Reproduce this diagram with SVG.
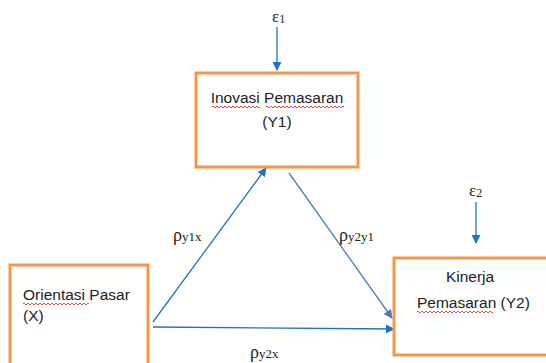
<svg xmlns="http://www.w3.org/2000/svg" width="546" height="363" viewBox="0 0 546 363">
<style>
.box{fill:#fff;stroke:#F79646;stroke-width:3}
.t{font-family:"Liberation Sans",Arial,sans-serif;font-size:15.5px;fill:#222}
.g{font-family:"Liberation Serif","Times New Roman",serif;fill:#222}
.c{stroke:#1F72C4;stroke-width:1.3;fill:none}
.c2{stroke:#4A7EBB;stroke-width:1.3;fill:none}
.sq{stroke:#E02020;stroke-width:0.8;fill:none}
</style>
<defs>
<marker id="ah" viewBox="0 0 10 10" refX="9" refY="5" markerWidth="9" markerHeight="9" markerUnits="userSpaceOnUse" orient="auto"><path d="M0,0L10,5L0,10z" fill="#1F72C4"/></marker>
<marker id="ah2" viewBox="0 0 10 10" refX="9" refY="5" markerWidth="9" markerHeight="9" markerUnits="userSpaceOnUse" orient="auto"><path d="M0,0L10,5L0,10z" fill="#4A7EBB"/></marker>
</defs>
<g id="connectors">
<line class="c" x1="277" y1="27" x2="277" y2="70" marker-end="url(#ah)"/>
<line class="c" x1="476" y1="202" x2="476" y2="243" marker-end="url(#ah)"/>
<line class="c" x1="153" y1="322" x2="266" y2="168" marker-end="url(#ah)"/>
<line class="c2" x1="289" y1="173" x2="392" y2="318" marker-end="url(#ah2)"/>
<line class="c" x1="153" y1="327" x2="394" y2="329" marker-end="url(#ah)"/>
</g>
<g id="e1"><text class="g" x="272" y="22" font-size="17">ε<tspan font-size="12" dy="1">1</tspan></text></g>
<g id="e2"><text class="g" x="469" y="196" font-size="17">ε<tspan font-size="12" dy="1">2</tspan></text></g>
<g id="Y1">
<rect class="box" x="196" y="73" width="162" height="94"/>
<text class="t" x="277" y="103" text-anchor="middle">Inovasi Pemasaran</text>
<text class="t" x="277" y="127" text-anchor="middle">(Y1)</text>
<path class="sq" d="M212,107 q1,-2 2,0 t2,0 t2,0 t2,0 t2,0 t2,0 t2,0 t2,0 t2,0 t2,0 t2,0 t2,0 t2,0 t2,0 t2,0 t2,0 t2,0 t2,0 t2,0 t2,0 t2,0 t2,0 t2,0 t2,0"/>
<path class="sq" d="M266,107 q1,-2 2,0 t2,0 t2,0 t2,0 t2,0 t2,0 t2,0 t2,0 t2,0 t2,0 t2,0 t2,0 t2,0 t2,0 t2,0 t2,0 t2,0 t2,0 t2,0 t2,0 t2,0 t2,0 t2,0 t2,0 t2,0 t2,0 t2,0 t2,0 t2,0 t2,0 t2,0 t2,0 t2,0 t2,0 t2,0 t2,0 t2,0 t2,0 t2,0"/>
</g>
<g id="Y2">
<rect class="box" x="394" y="258" width="160" height="97"/>
<text class="t" x="470" y="282" text-anchor="middle">Kinerja</text>
<text class="t" x="417" y="308">Pemasaran (Y2)</text>
<path class="sq" d="M417,312 q1,-2 2,0 t2,0 t2,0 t2,0 t2,0 t2,0 t2,0 t2,0 t2,0 t2,0 t2,0 t2,0 t2,0 t2,0 t2,0 t2,0 t2,0 t2,0 t2,0 t2,0 t2,0 t2,0 t2,0 t2,0 t2,0 t2,0 t2,0 t2,0 t2,0 t2,0 t2,0 t2,0 t2,0 t2,0 t2,0 t2,0 t2,0 t2,0"/>
</g>
<g id="X">
<rect class="box" x="10" y="265" width="138" height="110"/>
<text class="t" x="23" y="300">Orientasi Pasar</text>
<text class="t" x="23" y="321">(X)</text>
<path class="sq" d="M23,304 q1,-2 2,0 t2,0 t2,0 t2,0 t2,0 t2,0 t2,0 t2,0 t2,0 t2,0 t2,0 t2,0 t2,0 t2,0 t2,0 t2,0 t2,0 t2,0 t2,0 t2,0 t2,0 t2,0 t2,0 t2,0 t2,0 t2,0 t2,0 t2,0 t2,0 t2,0 t2,0 t2,0 t2,0"/>
</g>
<g id="labels">
<text class="g" x="173" y="241" font-size="18">ρ<tspan font-size="13">y1x</tspan></text>
<text class="g" x="339" y="241" font-size="18">ρ<tspan font-size="13">y2y1</tspan></text>
<text class="g" x="250" y="358" font-size="18">ρ<tspan font-size="13">y2x</tspan></text>
</g>
</svg>
